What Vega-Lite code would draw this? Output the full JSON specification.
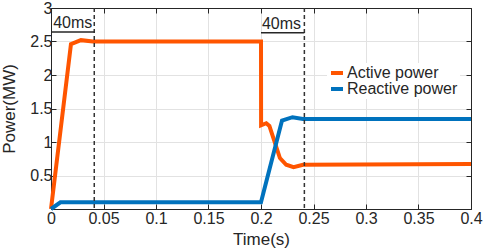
{
  "$schema": "https://vega.github.io/schema/vega-lite/v6.json",
  "width": 420,
  "height": 201,
  "autosize": "none",
  "padding": {"left": 51, "top": 8, "right": 13, "bottom": 43},
  "background": "white",
  "config": {
    "view": {"stroke": null},
    "axis": {
      "labelFont": "Liberation Sans",
      "labelFontSize": 16,
      "labelColor": "#262626",
      "titleFont": "Liberation Sans",
      "titleFontSize": 17,
      "titleFontWeight": "normal",
      "titleColor": "#262626",
      "domainColor": "#262626",
      "domainWidth": 1,
      "tickColor": "#262626",
      "tickSize": -5,
      "tickWidth": 1,
      "gridColor": "#e2e2e2",
      "gridWidth": 1
    },
    "legend": {
      "labelFont": "Liberation Sans",
      "labelFontSize": 16,
      "labelColor": "#262626"
    }
  },
  "datasets": {
    "curves": [
      {"series": "Active power", "t": 0, "v": 0},
      {"series": "Active power", "t": 0.019, "v": 2.46},
      {"series": "Active power", "t": 0.0285, "v": 2.52},
      {"series": "Active power", "t": 0.04, "v": 2.5},
      {"series": "Active power", "t": 0.2, "v": 2.5},
      {"series": "Active power", "t": 0.2001, "v": 1.25},
      {"series": "Active power", "t": 0.205, "v": 1.28},
      {"series": "Active power", "t": 0.208, "v": 1.24},
      {"series": "Active power", "t": 0.218, "v": 0.76},
      {"series": "Active power", "t": 0.224, "v": 0.66},
      {"series": "Active power", "t": 0.231, "v": 0.625},
      {"series": "Active power", "t": 0.24, "v": 0.66},
      {"series": "Active power", "t": 0.4, "v": 0.67},
      {"series": "Reactive power", "t": 0, "v": 0},
      {"series": "Reactive power", "t": 0.009, "v": 0.1},
      {"series": "Reactive power", "t": 0.2, "v": 0.1},
      {"series": "Reactive power", "t": 0.22, "v": 1.32},
      {"series": "Reactive power", "t": 0.23, "v": 1.37},
      {"series": "Reactive power", "t": 0.24, "v": 1.345},
      {"series": "Reactive power", "t": 0.4, "v": 1.345}
    ],
    "marks": [
      {"t": 0.0412},
      {"t": 0.2413}
    ],
    "spans": [
      {"t0": 0, "t1": 0.0412, "v": 2.64},
      {"t0": 0.2, "t1": 0.2413, "v": 2.63}
    ],
    "notes": [
      {"t": 0.0207, "v": 2.7, "label": "40ms"},
      {"t": 0.2195, "v": 2.685, "label": "40ms"}
    ]
  },
  "layer": [
    {
      "data": {"name": "curves"},
      "mark": {"type": "line", "strokeWidth": 4},
      "encoding": {
        "x": {
          "field": "t", "type": "quantitative",
          "scale": {"domain": [0, 0.4], "nice": false},
          "axis": {
            "orient": "bottom", "title": "Time(s)",
            "values": [0, 0.05, 0.1, 0.15, 0.2, 0.25, 0.3, 0.35, 0.4],
            "format": "~g", "labelPadding": 6, "titlePadding": 5, "labelFlush": false, "labelOverlap": false
          }
        },
        "y": {
          "field": "v", "type": "quantitative",
          "scale": {"domain": [0, 3], "nice": false},
          "axis": {
            "orient": "left", "title": "Power(MW)",
            "values": [0, 0.5, 1, 1.5, 2, 2.5, 3],
            "format": "~g",
            "labelExpr": "datum.value == 0 ? '' : datum.label",
            "labelPadding": 4, "titlePadding": 11, "labelOverlap": false
          }
        },
        "color": {
          "field": "series", "type": "nominal",
          "scale": {"domain": ["Active power", "Reactive power"], "range": ["#FF5500", "#0072BD"]},
          "legend": {
            "title": null,
            "orient": "none",
            "legendX": 276,
            "legendY": 55,
            "symbolType": "stroke",
            "symbolStrokeWidth": 4,
            "symbolSize": 144,
            "rowPadding": 0,
            "labelOffset": 2,
            "fillColor": "white",
            "padding": 2
          }
        },
        "order": {"field": "t", "type": "quantitative"}
      }
    },
    {
      "data": {"name": "marks"},
      "mark": {"type": "rule", "strokeDash": [4, 3], "strokeWidth": 1.5, "color": "#333333"},
      "encoding": {
        "x": {"field": "t", "type": "quantitative", "axis": null}
      }
    },
    {
      "data": {"name": "spans"},
      "mark": {"type": "rule", "strokeWidth": 1.5, "color": "#262626"},
      "encoding": {
        "x": {
          "field": "t0", "type": "quantitative",
          "axis": {
            "orient": "top", "title": null, "labels": false, "grid": false,
            "values": [0, 0.05, 0.1, 0.15, 0.2, 0.25, 0.3, 0.35, 0.4]
          }
        },
        "x2": {"field": "t1"},
        "y": {
          "field": "v", "type": "quantitative",
          "axis": {
            "orient": "right", "title": null, "labels": false, "grid": false,
            "values": [0, 0.5, 1, 1.5, 2, 2.5, 3]
          }
        }
      }
    },
    {
      "data": {"name": "notes"},
      "mark": {"type": "text", "font": "Liberation Sans", "fontSize": 16, "color": "#262626", "align": "center", "baseline": "alphabetic"},
      "encoding": {
        "x": {"field": "t", "type": "quantitative", "axis": null},
        "y": {"field": "v", "type": "quantitative", "axis": null},
        "text": {"field": "label"}
      }
    }
  ],
  "resolve": {"axis": {"x": "independent", "y": "independent"}}
}
